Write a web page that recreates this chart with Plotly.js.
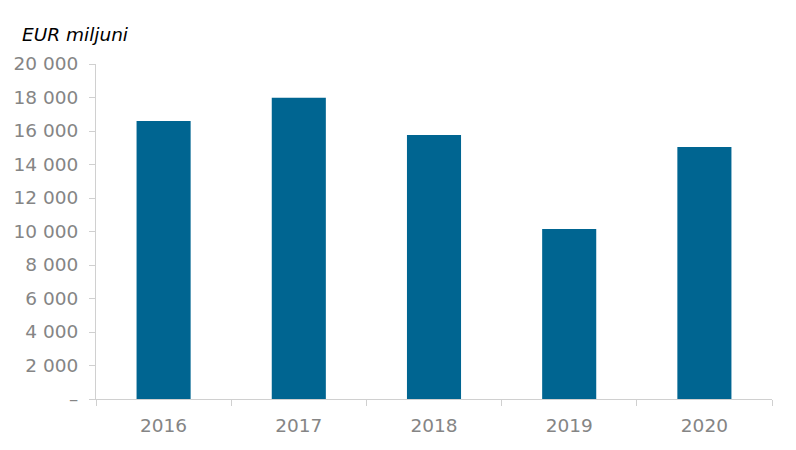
<!DOCTYPE html>
<html>
<head>
<meta charset="utf-8">
<script src="https://cdn.plot.ly/plotly-3.0.1.min.js"></script>
<style>html,body{margin:0;padding:0;background:#fff;}#chart{width:796px;height:450px;}</style>
</head>
<body>
<div id="chart"></div>
<script>
const years = ["2016", "2017", "2018", "2019", "2020"];
const values = [16600, 17980, 15760, 10150, 15050];
const yTickVals = [0, 2000, 4000, 6000, 8000, 10000, 12000, 14000, 16000, 18000, 20000];
const yTickText = ["–", "2 000", "4 000", "6 000", "8 000", "10 000", "12 000", "14 000", "16 000", "18 000", "20 000"];
const unitLabel = "EUR miljuni";

const font = "DejaVu Sans, Verdana, sans-serif";
Plotly.newPlot("chart", [{
  type: "bar",
  x: years,
  y: values,
  width: 0.4,
  marker: {color: "#006591"},
  hoverinfo: "x+y"
}], {
  width: 796, height: 450,
  margin: {l: 96, r: 24, t: 64, b: 51},
  paper_bgcolor: "#fff", plot_bgcolor: "#fff",
  showlegend: false,
  font: {family: font, size: 18.5, color: "#858585"},
  xaxis: {
    type: "category",
    showgrid: false, zeroline: false,
    showline: true, linecolor: "#d0d0d0", linewidth: 1,
    ticks: "outside", tickson: "boundaries", ticklen: 6, tickcolor: "#d0d0d0",
    tickfont: {family: font, size: 18.5, color: "#858585"},
    ticklabelstandoff: 10
  },
  yaxis: {
    range: [0, 20000],
    showgrid: false, zeroline: false,
    showline: true, linecolor: "#d0d0d0", linewidth: 1,
    ticks: "outside", ticklen: 6, tickcolor: "#d0d0d0",
    tickvals: yTickVals, ticktext: yTickText,
    tickfont: {family: font, size: 18.5, color: "#858585"},
    ticklabelstandoff: 7
  },
  annotations: [{
    text: unitLabel, xref: "paper", yref: "paper",
    x: -96/676 + 20/676, y: 1 + 29/335, xanchor: "left", yanchor: "middle",
    showarrow: false,
    font: {family: font, size: 18.5, color: "#000", style: "italic"}
  }]
}, {displayModeBar: false, staticPlot: true});
</script>
</body>
</html>
